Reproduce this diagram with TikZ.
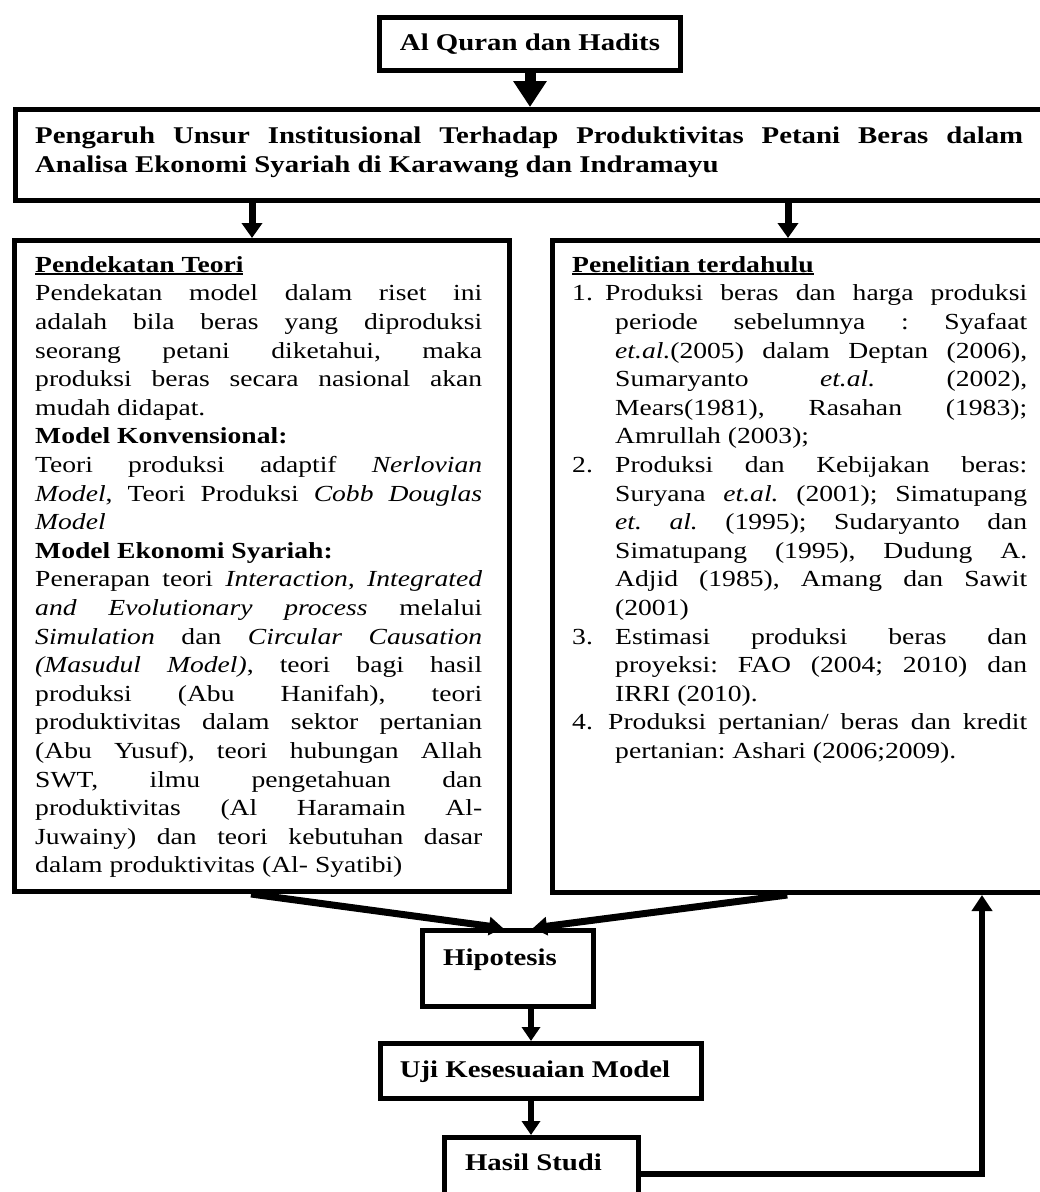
\documentclass[tikz,border=0pt]{standalone}
\usepackage{fontspec}
\setmainfont{Liberation Serif}[FakeStretch=1.2]
\usetikzlibrary{arrows.meta}

\tolerance=10000
\hbadness=10000
\hyphenpenalty=10000
\exhyphenpenalty=10000

% font sizes of the body text and of the bold box labels
\newcommand\bodyfont{\fontsize{23}{28.6}\selectfont}
\newcommand\headfont{\fontsize{24}{29}\selectfont\bfseries}
% bold heading with a heavier underline
\newcommand\hdul[1]{\setbox0\hbox{\bfseries #1}\rlap{\rule[-3pt]{\wd0}{1.8pt}}\box0}
% numbered entry with a hanging indent
\newcommand\rsitem[2]{\par\noindent\hangindent=43pt\hangafter=1\makebox[#2][l]{#1}\ignorespaces}

\tikzset{
  box/.style={draw, line width=5pt, inner sep=0pt},
  txt/.style={inner sep=0pt, anchor=north west, align=justify, font=\bodyfont},
  lbl/.style={inner sep=0pt, anchor=base, font=\headfont},
  bigarr/.style={line width=11pt, -{Triangle[length=26pt,width=32pt]}},
  midarr/.style={line width=7pt, -{Triangle[length=15pt,width=20pt]}},
  diagarr/.style={line width=7pt, -{Triangle[length=14pt,width=18pt]}},
  smallarr/.style={line width=6pt, -{Triangle[length=14pt,width=18pt]}},
  fbarr/.style={line width=6pt, -{Triangle[length=16pt,width=20pt]}}
}

\begin{document}
\begin{tikzpicture}[x=1pt, y=-1pt]
\useasboundingbox (0,0) rectangle (1040,1192);
\fill[white] (0,0) rectangle (1040,1192);
\clip (0,0) rectangle (1040,1192);

% top source box
\node[box, minimum width=301pt, minimum height=53pt] (quran) at (530,44) {};
\node[lbl] (qurantxt) at (530,50) {Al Quran dan Hadits};

% research title
\node[box, minimum width=1044.5pt, minimum height=91pt] (judul) at (537.75,155) {};
\node[txt, font=\headfont, text width=988pt] (judultxt) at (35,122.7) {\frenchspacing\strut
Pengaruh Unsur Institusional Terhadap Produktivitas Petani Beras dalam\linebreak
Analisa Ekonomi Syariah di Karawang dan Indramayu};

% theory box
\node[box, minimum width=495pt, minimum height=651pt] (teori) at (262,566) {};
\node[txt, text width=447pt] (teoritxt) at (35,252) {\frenchspacing\parskip=0pt\strut\hdul{Pendekatan Teori}\par
Pendekatan model dalam riset ini\linebreak
adalah bila beras yang diproduksi\linebreak
seorang petani diketahui, maka\linebreak
produksi beras secara nasional akan\linebreak
mudah didapat.\par
\textbf{Model Konvensional:}\par
Teori produksi adaptif \textit{Nerlovian}\linebreak
\textit{Model}, Teori Produksi \textit{Cobb Douglas}\linebreak
\textit{Model}\par
\textbf{Model Ekonomi Syariah:}\par
Penerapan teori \textit{Interaction, Integrated}\linebreak
\textit{and Evolutionary process} melalui\linebreak
\textit{Simulation} dan \textit{Circular Causation}\linebreak
\textit{(Masudul Model)}, teori bagi hasil\linebreak
produksi (Abu Hanifah), teori\linebreak
produktivitas dalam sektor pertanian\linebreak
(Abu Yusuf), teori hubungan Allah\linebreak
SWT, ilmu pengetahuan dan\linebreak
produktivitas (Al Haramain Al-\linebreak
Juwainy) dan teori kebutuhan dasar\linebreak
dalam produktivitas (Al- Syatibi)\par};

% previous research box
\node[box, minimum width=507.5pt, minimum height=652pt] (penelitian) at (806.25,566.5) {};
\node[txt, text width=455pt] (penelitiantxt) at (572,252) {\frenchspacing\parskip=0pt\strut\hdul{Penelitian terdahulu}
\rsitem{1.}{33pt}Produksi beras dan harga produksi\linebreak
periode sebelumnya : Syafaat\linebreak
\textit{et.al.}(2005) dalam Deptan (2006),\linebreak
Sumaryanto \textit{et.al.} (2002),\linebreak
Mears(1981), Rasahan (1983);\linebreak
Amrullah (2003);
\rsitem{2.}{43pt}Produksi dan Kebijakan beras:\linebreak
Suryana \textit{et.al.} (2001); Simatupang\linebreak
\textit{et. al.} (1995); Sudaryanto dan\linebreak
Simatupang (1995), Dudung A.\linebreak
Adjid (1985), Amang dan Sawit\linebreak
(2001)
\rsitem{3.}{43pt}Estimasi produksi beras dan\linebreak
proyeksi: FAO (2004; 2010) dan\linebreak
IRRI (2010).
\rsitem{4.}{36pt}Produksi pertanian/ beras dan kredit\linebreak
pertanian: Ashari (2006;2009).\par};

% lower chain
\node[box, minimum width=171pt, minimum height=76pt] (hipo) at (508,968.5) {};
\node[lbl] (hipotxt) at (500,965) {Hipotesis};
\node[box, minimum width=321pt, minimum height=55pt] (uji) at (541,1071) {};
\node[lbl] (ujitxt) at (535,1077) {Uji Kesesuaian Model};
\node[box, minimum width=194pt, minimum height=72.5pt] (hasil) at (541.5,1173.75) {};
\node[lbl] (hasiltxt) at (533.5,1170) {Hasil Studi};

% connectors
\coordinate (xl) at (252,0);
\coordinate (xr) at (788,0);
\coordinate (xc) at (531,0);
\coordinate (xf) at (982,0);

\draw[bigarr] (quran.south) -- (quran.south |- judul.north);
\draw[midarr] (xl |- judul.south) -- (xl |- teori.north);
\draw[midarr] (xr |- judul.south) -- (xr |- penelitian.north);
\draw[diagarr] ([xshift=-11pt]teori.south) -- ([xshift=-5pt]hipo.north);
\draw[diagarr] ([xshift=-19pt]penelitian.south) -- ([xshift=25pt]hipo.north);
\draw[smallarr] (xc |- hipo.south) -- (xc |- uji.north);
\draw[smallarr] (xc |- uji.south) -- (xc |- hasil.north);
\draw[fbarr] (hasil.east) -| (xf |- penelitian.south);
\end{tikzpicture}
\end{document}
